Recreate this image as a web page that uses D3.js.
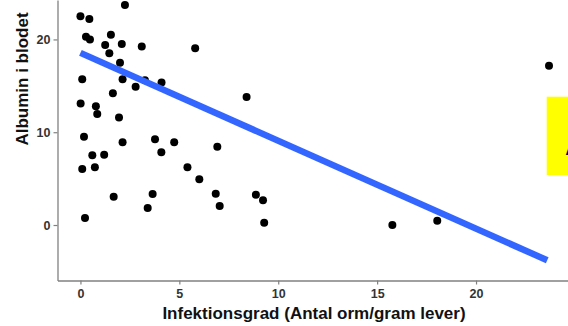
<!DOCTYPE html>
<html>
<head>
<meta charset="utf-8">
<script src="https://cdn.jsdelivr.net/npm/d3@7"></script>
<style>
  html, body { margin: 0; padding: 0; background: #fff; }
  svg { display: block; }
  text { font-family: "Liberation Sans", Arial, sans-serif; }
</style>
</head>
<body>
<svg id="chart" width="568" height="326"></svg>
<script>
// Infection level (worms per gram liver) for each animal
const infektion = [
  0.0, 0.45, 2.25, 0.28, 0.48, 1.54, 1.25, 2.09, 3.1, 5.8,
  1.46, 2.0, 0.09, 2.13, 2.79, 4.1, 3.26, 1.64, 0.01, 0.78,
  0.85, 1.95, 8.4, 23.69, 0.18, 2.13, 3.77, 4.74, 0.6, 1.2,
  4.09, 0.09, 0.73, 5.41, 6.01, 6.92, 1.68, 3.65, 3.4, 0.23,
  6.84, 7.04, 8.87, 9.23, 9.29, 15.77, 18.04
];
// Blood albumin for the same animals
const albumin = [
  22.5, 22.2, 23.7, 20.3, 20.0, 20.5, 19.4, 19.5, 19.25, 19.05,
  18.5, 17.5, 15.7, 15.7, 14.9, 15.36, 15.6, 14.2, 13.1, 12.8,
  11.96, 11.58, 13.8, 17.17, 9.52, 8.91, 9.23, 8.91, 7.51, 7.58,
  7.83, 6.03, 6.22, 6.22, 4.92, 8.44, 3.05, 3.34, 1.83, 0.75,
  3.37, 2.05, 3.27, 2.66, 0.25, 0.0, 0.46
];
// Linear fit drawn across the range of infection levels
const fitX = [0, 23.6];
const fitY = [18.55, -3.8];

const xTicks = [0, 5, 10, 15, 20];
const yTicks = [0, 10, 20];

const svg = d3.select("#chart");

const x = d3.scaleLinear().domain([-1.16, 24.65]).range([57.5, 568]);
const y = d3.scaleLinear().domain([-5.98, 24.25]).range([280.5, 0]);

// axes
const xAxis = svg.append("g")
  .attr("transform", "translate(0,280.5)")
  .call(d3.axisBottom(x).tickValues(xTicks).tickFormat(d3.format("d"))
        .tickSizeInner(4).tickSizeOuter(0).tickPadding(5));
const yAxis = svg.append("g")
  .attr("transform", "translate(57.5,0)")
  .call(d3.axisLeft(y).tickValues(yTicks).tickFormat(d3.format("d"))
        .tickSizeInner(4).tickSizeOuter(0).tickPadding(3));

[xAxis, yAxis].forEach(g => {
  g.select(".domain").attr("stroke", "#808080").attr("stroke-width", 1.3);
  g.selectAll(".tick line").attr("stroke", "#808080").attr("stroke-width", 1.2);
  g.selectAll(".tick text")
    .attr("fill", "#333")
    .attr("font-size", 12.5)
    .attr("font-weight", "bold")
    .style("font-family", "'Liberation Sans', Arial, sans-serif");
});

// points
const pts = infektion.map((v, i) => ({ x: v, y: albumin[i] }));
svg.append("g").selectAll("circle")
  .data(pts)
  .join("circle")
  .attr("cx", d => x(d.x))
  .attr("cy", d => y(d.y))
  .attr("r", 4)
  .attr("fill", "#000");

// fitted line
svg.append("line")
  .attr("x1", x(fitX[0])).attr("y1", y(fitY[0]))
  .attr("x2", x(fitX[1])).attr("y2", y(fitY[1]))
  .attr("stroke", "#3366FF")
  .attr("stroke-width", 6.5)
  .attr("stroke-linecap", "butt");

// axis titles
svg.append("text")
  .attr("x", 314).attr("y", 319)
  .attr("text-anchor", "middle")
  .attr("font-size", 17).attr("font-weight", "bold")
  .attr("fill", "#111")
  .text("Infektionsgrad (Antal orm/gram lever)");

svg.append("text")
  .attr("transform", "translate(27.5,79) rotate(-90)")
  .attr("text-anchor", "middle")
  .attr("font-size", 17).attr("font-weight", "bold")
  .attr("fill", "#111")
  .text("Albumin i blodet");

// highlight box at the right edge
svg.append("rect")
  .attr("x", 546.7).attr("y", 96.7)
  .attr("width", 30).attr("height", 78.3)
  .attr("fill", "#FFFF00");
svg.append("text")
  .attr("x", 565.5).attr("y", 155)
  .attr("font-size", 14).attr("font-weight", "bold")
  .attr("fill", "#000")
  .text("A");
</script>
</body>
</html>
